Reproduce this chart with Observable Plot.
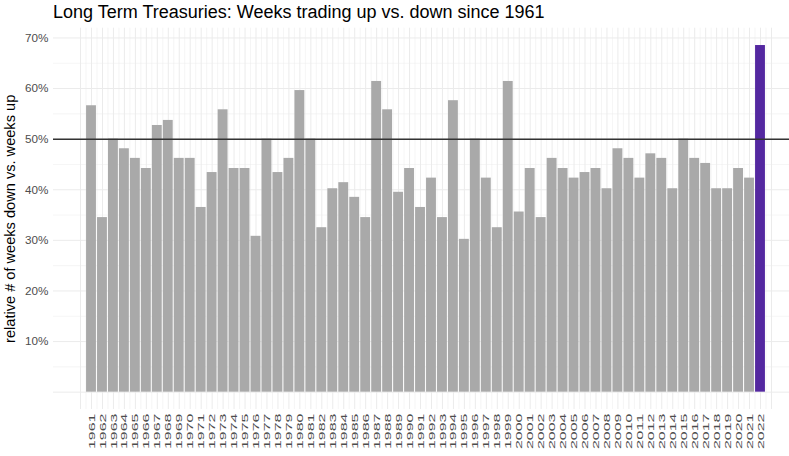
<!DOCTYPE html>
<html><head><meta charset="utf-8">
<script src="https://cdn.jsdelivr.net/npm/d3@7"></script>
<script src="https://cdn.jsdelivr.net/npm/@observablehq/plot@0.6"></script>
<style>
body{margin:0;background:#fff;font-family:"Liberation Sans",Arial,sans-serif;}
#title{height:24px;line-height:24px;font-size:18px;padding-left:53px;color:#000;white-space:nowrap;}
</style></head><body>
<div id="title">Long Term Treasuries: Weeks trading up vs. down since 1961</div>
<div id="chart"></div>
<script>
const years = [1961,1962,1963,1964,1965,1966,1967,1968,1969,1970,
  1971,1972,1973,1974,1975,1976,1977,1978,1979,1980,
  1981,1982,1983,1984,1985,1986,1987,1988,1989,1990,
  1991,1992,1993,1994,1995,1996,1997,1998,1999,2000,
  2001,2002,2003,2004,2005,2006,2007,2008,2009,2010,
  2011,2012,2013,2014,2015,2016,2017,2018,2019,2020,
  2021,2022];
const downShare = [56.6,34.5,50.0,48.1,46.2,44.2,52.7,53.7,46.2,46.2,
  36.5,43.4,55.8,44.2,44.2,30.8,50.0,43.4,46.2,59.6,
  50.0,32.5,40.2,41.4,38.5,34.5,61.4,55.8,39.5,44.2,
  36.5,42.3,34.5,57.6,30.2,50.0,42.3,32.5,61.4,35.6,
  44.2,34.5,46.2,44.2,42.3,43.4,44.2,40.2,48.1,46.2,
  42.3,47.1,46.2,40.2,50.0,46.2,45.2,40.2,40.2,44.2,
  42.3,68.5];
const highlightYear = 2022;
const yTickValues = [10,20,30,40,50,60,70];
const referenceLevel = [50];
const yTitle = "relative # of weeks down vs. weeks up";

const data = years.map((year, i) => ({year, value: downShare[i]}));
const xMajor = d3.range(1960, 2024);
const xMinor = d3.range(1960.5, 2023, 1);
const yMajor = d3.range(0, 71, 10);
const yMinor = d3.range(5, 70, 10);

const chart = Plot.plot({
  width: 789, height: 432,
  marginLeft: 53, marginRight: 0, marginTop: 3.7, marginBottom: 47,
  style: {fontFamily: "'Liberation Sans', Arial, sans-serif", background: "#fff", color: "#4d4d4d", overflow: "visible"},
  x: {type: "linear", domain: [1961, 2022], range: [91, 760]},
  y: {domain: [-3.425, 71.925]},
  marks: [
    Plot.ruleY(yMinor, {stroke: "#ebebeb", strokeWidth: 0.5}),
    Plot.ruleY(yMajor, {stroke: "#ebebeb", strokeWidth: 1}),
    Plot.ruleX(xMinor, {stroke: "#ebebeb", strokeWidth: 0.5}),
    Plot.ruleX(xMajor, {stroke: "#ebebeb", strokeWidth: 1}),
    Plot.rectY(data, {
      x1: d => d.year - 0.45, x2: d => d.year + 0.45,
      y1: 0, y2: "value",
      fill: d => d.year === highlightYear ? "#5428a0" : "#a9a9a9"
    }),
    Plot.ruleY(referenceLevel, {stroke: "#333333", strokeWidth: 1.5}),
    Plot.axisY({ticks: yTickValues, tickFormat: d => d + "%", tickSize: 0, tickPadding: 5, label: null, fontSize: 11.7}),
    Plot.axisX({ticks: years, tickFormat: d => String(d), tickRotate: -90, tickSize: 0, tickPadding: 4, label: null, fontSize: 9.6}),
    Plot.text([yTitle], {frameAnchor: "left", textAnchor: "middle", rotate: -90, dx: -43, fontSize: 14.6, fill: "#000"})
  ]
});
// the reference's rotated year labels are stretched along their length
chart.querySelectorAll('g[aria-label="x-axis tick label"] text').forEach(t => {
  t.setAttribute("textLength", "35.5");
  t.setAttribute("lengthAdjust", "spacingAndGlyphs");
});
document.getElementById("chart").appendChild(chart);
</script>
</body></html>
